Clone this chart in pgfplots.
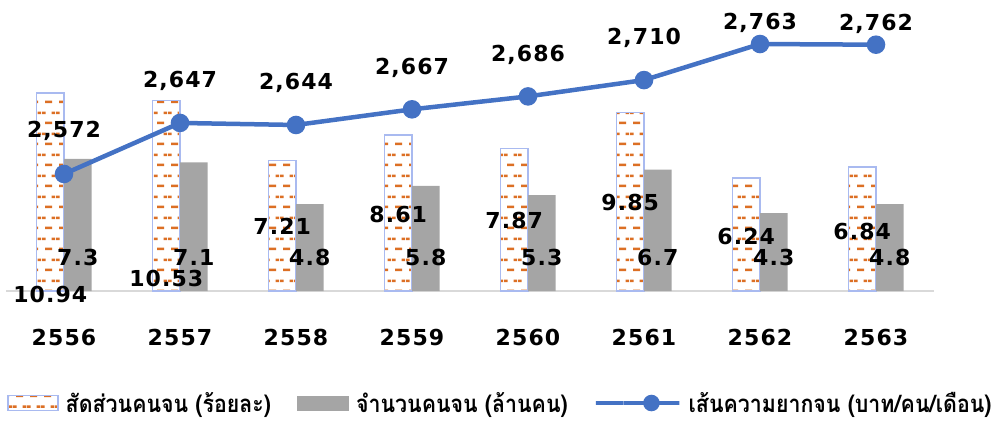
\documentclass[border=0pt]{standalone}
\usepackage{pgfplots}
\pgfplotsset{compat=1.18}
\usetikzlibrary{patterns}
\usepackage{fontspec}
\newfontfamily\numfont[LetterSpace=5]{DejaVu Sans}
\newfontfamily\thaifont[Script=Thai, FakeStretch=0.89]{Loma}

\definecolor{lineblue}{HTML}{4472C4}
\definecolor{bargray}{HTML}{A5A5A5}
\definecolor{patorange}{HTML}{DC6F24}
\definecolor{patborder}{HTML}{A9BAF0}
\definecolor{axisgray}{HTML}{D9D9D9}

% Excel style "dashed horizontal" fill
\pgfdeclarepatternformonly{hdash}{\pgfqpoint{0pt}{0pt}}{\pgfqpoint{14pt}{21pt}}{\pgfqpoint{14pt}{21pt}}{%
  \pgfsetlinewidth{2.6pt}%
  \pgfpathmoveto{\pgfqpoint{3.25pt}{5.25pt}}\pgfpathlineto{\pgfqpoint{10.75pt}{5.25pt}}%
  \pgfpathmoveto{\pgfqpoint{0pt}{15.75pt}}\pgfpathlineto{\pgfqpoint{3.75pt}{15.75pt}}%
  \pgfpathmoveto{\pgfqpoint{10.25pt}{15.75pt}}\pgfpathlineto{\pgfqpoint{14pt}{15.75pt}}%
  \pgfusepath{stroke}%
}

\pgfplotsset{
  patbox/.style={legend image code/.code={\draw[##1] (0pt,-7.5pt) rectangle (50pt,7.5pt);}},
  graybox/.style={legend image code/.code={\fill[bargray] (0pt,-7.5pt) rectangle (52pt,7.5pt);}},
  linebox/.style={legend image code/.code={\draw[mark repeat=2, mark phase=2, ##1] plot coordinates {(0pt,0pt) (28pt,0pt) (56pt,0pt)};}},
}

\newcommand{\lbl}{\numfont\bfseries\fontsize{22}{24}\selectfont}

\begin{document}
\begin{tikzpicture}
\useasboundingbox (0,0) rectangle (993pt,421pt);

% bars: poverty ratio and number of poor
\begin{axis}[
    at={(6pt,130pt)}, anchor=south west,
    scale only axis, width=928pt, height=281pt,
    xmin=-0.5, xmax=7.5, ymin=0, ymax=15.52,
    ybar=0pt, bar width=27.5pt,
    axis y line=none, axis x line*=bottom,
    x axis line style={draw=axisgray, line width=1.3pt, -},
    xtick={0,...,7},
    xticklabels={2556,2557,2558,2559,2560,2561,2562,2563},
    major tick length=0pt,
    xticklabel style={anchor=center, yshift=-46pt, inner sep=0pt, font=\numfont\bfseries\fontsize{22}{24}\selectfont},
    clip=false,
    legend columns=3,
    legend style={draw=none, fill=none, inner sep=0pt, at={(0.001,-0.3986)}, anchor=west,
        font=\thaifont\bfseries\fontsize{24}{26}\selectfont,
        /tikz/every odd column/.append style={column sep=5pt},
        /tikz/every even column/.append style={column sep=24pt}},
    legend cell align=left,
]
\addplot[draw=patborder, line width=1.6pt, fill=white,
    postaction={pattern=hdash, pattern color=patorange}, patbox]
  coordinates {(0,10.94) (1,10.53) (2,7.21) (3,8.61) (4,7.87) (5,9.85) (6,6.24) (7,6.84)};
\addlegendentry{สัดส่วนคนจน (ร้อยละ)}
\addplot[draw=none, fill=bargray, graybox]
  coordinates {(0,7.3) (1,7.1) (2,4.8) (3,5.8) (4,5.3) (5,6.7) (6,4.3) (7,4.8)};
\addlegendentry{จำนวนคนจน (ล้านคน)}
\addlegendimage{line legend, lineblue, line width=4.5pt, mark=*, mark size=6pt, linebox}
\addlegendentry{เส้นความยากจน (บาท/คน/เดือน)}

% data labels of the bars (placed as in the original)
\begin{scope}[every node/.style={inner sep=0pt, font=\lbl}]
\node[xshift=-13.75pt, yshift=-3pt] at (axis cs:0,0) {10.94};
\node[xshift=-13.75pt, yshift=13pt] at (axis cs:1,0) {10.53};
\node[xshift=-13.75pt, yshift=65pt] at (axis cs:2,0) {7.21};
\node[xshift=-13.75pt, yshift=77pt] at (axis cs:3,0) {8.61};
\node[xshift=-13.75pt, yshift=71pt] at (axis cs:4,0) {7.87};
\node[xshift=-13.75pt, yshift=89pt] at (axis cs:5,0) {9.85};
\node[xshift=-13.75pt, yshift=55pt] at (axis cs:6,0) {6.24};
\node[xshift=-13.75pt, yshift=60pt] at (axis cs:7,0) {6.84};
\node[xshift=13.75pt, yshift=34pt] at (axis cs:0,0) {7.3};
\node[xshift=13.75pt, yshift=34pt] at (axis cs:1,0) {7.1};
\node[xshift=13.75pt, yshift=34pt] at (axis cs:2,0) {4.8};
\node[xshift=13.75pt, yshift=34pt] at (axis cs:3,0) {5.8};
\node[xshift=13.75pt, yshift=34pt] at (axis cs:4,0) {5.3};
\node[xshift=13.75pt, yshift=34pt] at (axis cs:5,0) {6.7};
\node[xshift=13.75pt, yshift=34pt] at (axis cs:6,0) {4.3};
\node[xshift=13.75pt, yshift=34pt] at (axis cs:7,0) {4.8};
\end{scope}
\end{axis}

% line: poverty line, secondary scale
\begin{axis}[
    at={(6pt,130pt)}, anchor=south west,
    scale only axis, width=928pt, height=281pt,
    xmin=-0.5, xmax=7.5, ymin=2400, ymax=2813,
    hide axis, clip=false,
]
\addplot[lineblue, line width=4.5pt, mark=*, mark size=7pt]
  coordinates {(0,2572) (1,2647) (2,2644) (3,2667) (4,2686) (5,2710) (6,2763) (7,2762)};
\begin{scope}[every node/.style={inner sep=0pt, font=\lbl}]
\node[yshift=43pt] at (axis cs:0,2572) {2,572};
\node[yshift=42pt] at (axis cs:1,2647) {2,647};
\node[yshift=42pt] at (axis cs:2,2644) {2,644};
\node[yshift=41pt] at (axis cs:3,2667) {2,667};
\node[yshift=42pt] at (axis cs:4,2686) {2,686};
\node[yshift=42pt] at (axis cs:5,2710) {2,710};
\node[yshift=21pt] at (axis cs:6,2763) {2,763};
\node[yshift=21pt] at (axis cs:7,2762) {2,762};
\end{scope}
\end{axis}
\end{tikzpicture}
\end{document}
